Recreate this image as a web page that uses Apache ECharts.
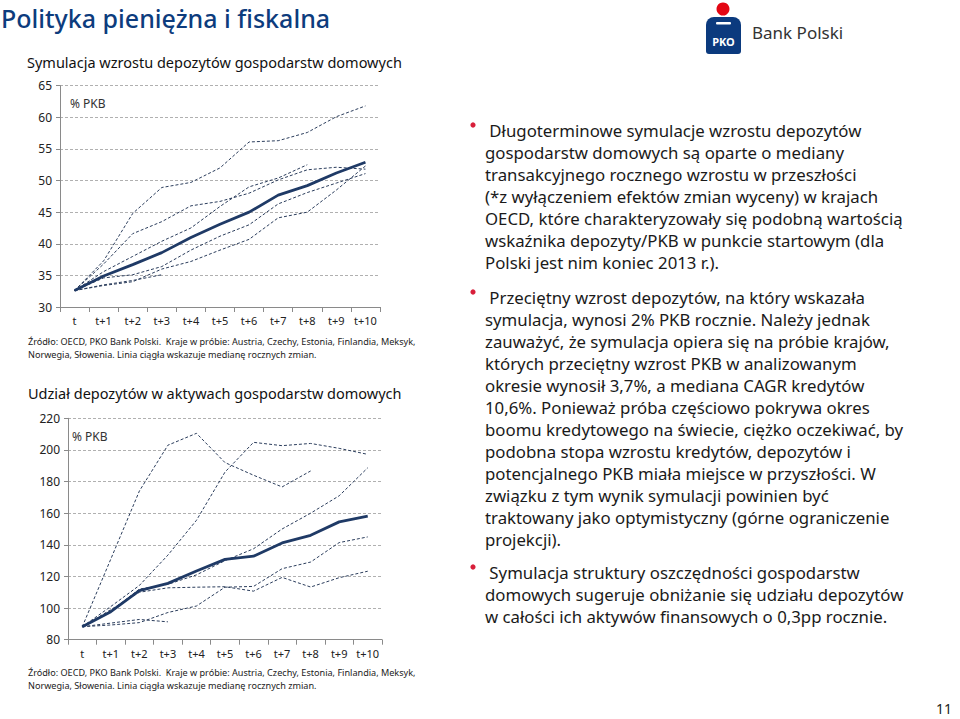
<!DOCTYPE html>
<html><head><meta charset="utf-8">
<script src="https://cdn.jsdelivr.net/npm/echarts@6/dist/echarts.min.js"></script>
<style>html,body{margin:0;padding:0;background:#fff}#c{width:960px;height:719px}</style>
</head><body><div id="c"></div>
<script>
const categories = ['t','t+1','t+2','t+3','t+4','t+5','t+6','t+7','t+8','t+9','t+10'];

// Chart 1: deposits, % PKB
const dep_yTicks = [30, 65, 5];
const dep_median = [32.6,34.9,36.7,38.6,41.0,43.1,45.0,47.7,49.2,51.2,52.9];
const dep_a = [32.6,37.3,44.8,48.9,49.7,52.0,56.1,56.3,57.6,60.1,61.8];
const dep_b = [32.6,36.8,41.6,43.5,46.0,46.7,48.0,50.1,51.7,52.1,51.8];
const dep_c = [32.6,35.6,38.0,40.4,42.5,45.9,49.0,50.4,52.5,null,null];
const dep_d = [32.6,34.6,35.1,36.4,39.0,41.2,43.0,46.3,48.1,49.6,51.1];
const dep_e = [32.6,33.4,34.0,36.0,37.2,39.0,40.7,44.1,45.0,48.5,52.3];
const dep_f = [32.6,33.5,34.2,35.1,null,null,null,null,null,null,null];

// Chart 2: share of deposits in assets
const sh_yTicks = [80, 220, 20];
const sh_median = [88.2,97.7,111.0,115.6,123.4,130.8,132.8,141.2,146.0,154.5,158.1];
const sh_a = [88.2,131,174,203,210.5,192,184,176.6,186.7,null,null];
const sh_b = [88.2,101,114.3,133.5,155.5,186,204.8,202.7,204.1,201,197.2];
const sh_c = [88.2,98,112,115,121,130,137.5,150,160,171,188.7];
const sh_d = [88.2,89.3,90.8,97.2,101.3,113.2,113.7,124.9,129.1,141.4,145];
const sh_e = [88.2,99,110,112.8,113.2,113.5,110.7,119.4,113.3,119.2,123.3];
const sh_f = [88.2,90.5,92.8,91.3,null,null,null,null,null,null,null];

const FONT = '"Noto Sans", "DejaVu Sans", sans-serif';
const chart = echarts.init(document.getElementById('c'), null, {renderer:'svg'});

function dashed(data, xi){
  return {type:'line', xAxisIndex:xi, yAxisIndex:xi, data:data, symbol:'none', connectNulls:false,
    silent:true, lineStyle:{color:'#2b3d5c', width:1, type:[3,2]}, z:2};
}
function solid(data, xi){
  return {type:'line', xAxisIndex:xi, yAxisIndex:xi, data:data, symbol:'none',
    silent:true, lineStyle:{color:'#1f3a66', width:2.8}, z:3};
}
function xAx(gi){
  return {type:'category', gridIndex:gi, data:categories, boundaryGap:true,
    axisLine:{lineStyle:{color:'#8a8a8a', width:1}},
    axisTick:{show:true, length:5, lineStyle:{color:'#8a8a8a'}},
    axisLabel:{color:'#222', fontSize:11, fontFamily:FONT, margin:8, interval:0}};
}
function yAx(gi, t){
  return {type:'value', gridIndex:gi, min:t[0], max:t[1], interval:t[2],
    axisLine:{show:true, lineStyle:{color:'#8a8a8a'}},
    axisTick:{show:true, length:4, lineStyle:{color:'#8a8a8a'}},
    splitLine:{show:true, lineStyle:{color:'#b0b0b0', type:[3,2], width:1}},
    axisLabel:{color:'#222', fontSize:12, fontFamily:FONT, margin:8}};
}
function txt(x, y, s, size, color, opts){
  opts = opts || {};
  return {type:'text', x:x, y:y, silent:true, style:{text:s, fill:color,
    font:(opts.weight||'normal')+' '+size+'px '+FONT,
    textAlign:opts.align||'left', align:opts.align||'left',
    textVerticalAlign:'middle', verticalAlign:'middle'}};
}

const bodyLines = [
  [130, ' Długoterminowe symulacje wzrostu depozytów', true],
  [152, 'gospodarstw domowych są oparte o mediany'],
  [174, 'transakcyjnego rocznego wzrostu w przeszłości'],
  [196, '(*z wyłączeniem efektów zmian wyceny) w krajach'],
  [218, 'OECD, które charakteryzowały się podobną wartością'],
  [240, 'wskaźnika depozyty/PKB w punkcie startowym (dla'],
  [262, 'Polski jest nim koniec 2013 r.).'],
  [297, ' Przeciętny wzrost depozytów, na który wskazała', true],
  [319, 'symulacja, wynosi 2% PKB rocznie. Należy jednak'],
  [341, 'zauważyć, że symulacja opiera się na próbie krajów,'],
  [363, 'których przeciętny wzrost PKB w analizowanym'],
  [385, 'okresie wynosił 3,7%, a mediana CAGR kredytów'],
  [407, '10,6%. Ponieważ próba częściowo pokrywa okres'],
  [429, 'boomu kredytowego na świecie, ciężko oczekiwać, by'],
  [451, 'podobna stopa wzrostu kredytów, depozytów i'],
  [473, 'potencjalnego PKB miała miejsce w przyszłości. W'],
  [495, 'związku z tym wynik symulacji powinien być'],
  [517, 'traktowany jako optymistyczny (górne ograniczenie'],
  [539, 'projekcji).'],
  [572, ' Symulacja struktury oszczędności gospodarstw', true],
  [594, 'domowych sugeruje obniżanie się udziału depozytów'],
  [616, 'w całości ich aktywów finansowych o 0,3pp rocznie.']
];

const graphics = [];
graphics.push(txt(1, 18, 'Polityka pieniężna i fiskalna', 25, '#0d3c7d', {weight:'500'}));
graphics.push(txt(27, 62, 'Symulacja wzrostu depozytów gospodarstw domowych', 14.5, '#111'));
graphics.push(txt(70, 103, '% PKB', 12, '#333'));
graphics.push(txt(28, 341, 'Źródło: OECD, PKO Bank Polski.  Kraje w próbie: Austria, Czechy, Estonia, Finlandia, Meksyk,', 9.1, '#222'));
graphics.push(txt(28, 354, 'Norwegia, Słowenia. Linia ciągła wskazuje medianę rocznych zmian.', 9.1, '#222'));
graphics.push(txt(28, 393, 'Udział depozytów w aktywach gospodarstw domowych', 14.5, '#111'));
graphics.push(txt(72, 436, '% PKB', 12, '#333'));
graphics.push(txt(28, 672, 'Źródło: OECD, PKO Bank Polski.  Kraje w próbie: Austria, Czechy, Estonia, Finlandia, Meksyk,', 9.1, '#222'));
graphics.push(txt(28, 685, 'Norwegia, Słowenia. Linia ciągła wskazuje medianę rocznych zmian.', 9.1, '#222'));
bodyLines.forEach(function(l){
  graphics.push(txt(485, l[0], l[1], 16.8, '#1a1a1a'));
  if (l[2]) graphics.push({type:'circle', silent:true, shape:{cx:473, cy:l[0]-5, r:2.6}, style:{fill:'#d81e3a'}});
});
graphics.push(txt(952, 708, '11', 14, '#222', {align:'right'}));
// logo
graphics.push({type:'circle', silent:true, shape:{cx:723, cy:9, r:6.5}, style:{fill:'#e30613'}});
graphics.push({type:'rect', silent:true, shape:{x:706, y:17, width:35, height:37, r:[8,8,3,3]}, style:{fill:'#0b3a7e'}});
graphics.push({type:'rect', silent:true, shape:{x:716, y:22, width:15, height:2.5, r:1}, style:{fill:'#ffffff'}});
graphics.push(txt(723.5, 41, 'PKO', 11, '#ffffff', {align:'center', weight:'bold'}));
graphics.push(txt(752, 32, 'Bank Polski', 17, '#333'));

chart.setOption({
  animation:false,
  backgroundColor:'#ffffff',
  grid:[
    {left:60, top:85.7, width:320, height:221.3, containLabel:false},
    {left:68, top:418.3, width:314, height:221.4, containLabel:false}
  ],
  xAxis:[xAx(0), xAx(1)],
  yAxis:[yAx(0, dep_yTicks), yAx(1, sh_yTicks)],
  series:[
    dashed(dep_a,0), dashed(dep_b,0), dashed(dep_c,0), dashed(dep_d,0), dashed(dep_e,0), dashed(dep_f,0), solid(dep_median,0),
    dashed(sh_a,1), dashed(sh_b,1), dashed(sh_c,1), dashed(sh_d,1), dashed(sh_e,1), dashed(sh_f,1), solid(sh_median,1)
  ],
  graphic:{elements:graphics}
});
</script>
</body></html>
